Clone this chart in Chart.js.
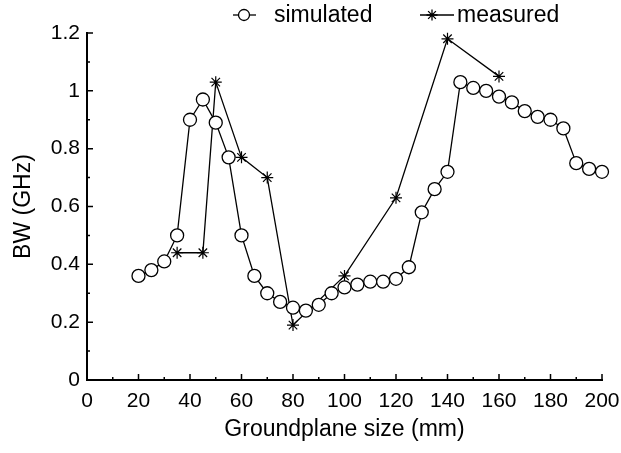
<!DOCTYPE html>
<html>
<head>
<meta charset="utf-8">
<script src="https://cdn.jsdelivr.net/npm/chart.js@4.4.0/dist/chart.umd.min.js"></script>
<style>
  body { margin: 0; background: #fff; }
  #wrap { width: 621px; height: 453px; }
</style>
</head>
<body>
<div id="wrap"><canvas id="bwChart"></canvas></div>
<script>
// groundplane size (mm) and bandwidth (GHz)
const simSizes = [20, 25, 30, 35, 40, 45, 50, 55, 60, 65, 70, 75, 80, 85, 90, 95, 100,
                  105, 110, 115, 120, 125, 130, 135, 140, 145, 150, 155, 160, 165, 170,
                  175, 180, 185, 190, 195, 200];
const simBW = [0.36, 0.38, 0.41, 0.50, 0.90, 0.97, 0.89, 0.77, 0.50, 0.36, 0.30, 0.27, 0.25,
               0.24, 0.26, 0.30, 0.32, 0.33, 0.34, 0.34, 0.35, 0.39, 0.58, 0.66, 0.72, 1.03,
               1.01, 1.00, 0.98, 0.96, 0.93, 0.91, 0.90, 0.87, 0.75, 0.73, 0.72];
const measSizes = [35, 45, 50, 60, 70, 80, 100, 120, 140, 160];
const measBW = [0.44, 0.44, 1.03, 0.77, 0.70, 0.19, 0.36, 0.63, 1.18, 1.05];

const xTicks = [0, 20, 40, 60, 80, 100, 120, 140, 160, 180, 200];
const yTicks = [0, 0.2, 0.4, 0.6, 0.8, 1, 1.2];

const FONT = '"Liberation Sans", Arial, sans-serif';

function toPoints(xs, ys) {
    return xs.map((x, i) => ({ x: x, y: ys[i] }));
}

function drawStar(ctx, cx, cy, r) {
    ctx.beginPath();
    for (let k = 0; k < 4; k++) {
        const a = k * Math.PI / 4;
        ctx.moveTo(cx - r * Math.cos(a), cy - r * Math.sin(a));
        ctx.lineTo(cx + r * Math.cos(a), cy + r * Math.sin(a));
    }
    ctx.stroke();
}

// inward ticks (major + minor) and the legend at the top
const axisDecor = {
    id: 'axisDecor',
    afterDraw(chart) {
        const { ctx, chartArea, scales } = chart;
        const { left, bottom } = chartArea;
        ctx.save();
        ctx.strokeStyle = '#000';
        ctx.lineWidth = 1.5;
        ctx.beginPath();
        xTicks.forEach((v, i) => {
            const px = scales.x.getPixelForValue(v);
            ctx.moveTo(px, bottom);
            ctx.lineTo(px, bottom - 6);
            if (i < xTicks.length - 1) {
                const mx = scales.x.getPixelForValue((v + xTicks[i + 1]) / 2);
                ctx.moveTo(mx, bottom);
                ctx.lineTo(mx, bottom - 3);
            }
        });
        yTicks.forEach((v, i) => {
            const py = scales.y.getPixelForValue(v);
            ctx.moveTo(left, py);
            ctx.lineTo(left + 6, py);
            if (i < yTicks.length - 1) {
                const my = scales.y.getPixelForValue((v + yTicks[i + 1]) / 2);
                ctx.moveTo(left, my);
                ctx.lineTo(left + 3, my);
            }
        });
        ctx.stroke();

        // legend
        ctx.lineWidth = 1.3;
        ctx.font = '23px ' + FONT;
        ctx.fillStyle = '#000';
        ctx.textBaseline = 'middle';
        const ly = 15;
        ctx.beginPath();
        ctx.moveTo(233, ly);
        ctx.lineTo(256, ly);
        ctx.stroke();
        ctx.beginPath();
        ctx.arc(244, ly, 5.5, 0, Math.PI * 2);
        ctx.fillStyle = '#fff';
        ctx.fill();
        ctx.stroke();
        ctx.fillStyle = '#000';
        ctx.fillText('simulated', 274, ly + 1);

        ctx.beginPath();
        ctx.moveTo(420, ly);
        ctx.lineTo(454, ly);
        ctx.stroke();
        drawStar(ctx, 432, ly, 5.5);
        ctx.fillText('measured', 457, ly + 1);
        ctx.restore();
    }
};

new Chart(document.getElementById('bwChart'), {
    type: 'line',
    data: {
        datasets: [{
            label: 'simulated',
            data: toPoints(simSizes, simBW),
            borderColor: '#000',
            borderWidth: 1.3,
            backgroundColor: '#fff',
            pointStyle: 'circle',
            pointRadius: 6.5,
            pointBorderWidth: 1.3,
            pointBackgroundColor: '#fff',
            pointBorderColor: '#000',
            tension: 0,
            clip: false
        }, {
            label: 'measured',
            data: toPoints(measSizes, measBW),
            borderColor: '#000',
            borderWidth: 1.3,
            pointStyle: 'star',
            pointRadius: 6,
            pointBorderWidth: 1.2,
            pointBorderColor: '#000',
            tension: 0,
            clip: false
        }]
    },
    options: {
        responsive: true,
        maintainAspectRatio: false,
        animation: false,
        layout: { padding: { top: 33, right: 19, left: 0, bottom: 0 } },
        plugins: {
            legend: { display: false },
            tooltip: { enabled: false }
        },
        scales: {
            x: {
                type: 'linear',
                min: 0,
                max: 200,
                afterBuildTicks: scale => { scale.ticks = xTicks.map(v => ({ value: v })); },
                afterFit: scale => {
                    scale.height = 73;
                    scale.paddingLeft = 0;
                    scale.paddingRight = 0;
                },
                grid: { display: false, drawTicks: false },
                border: { display: true, color: '#000', width: 2 },
                ticks: {
                    color: '#000',
                    padding: 9,
                    maxRotation: 0,
                    font: { family: FONT, size: 21 }
                },
                title: {
                    display: true,
                    text: 'Groundplane size (mm)',
                    color: '#000',
                    padding: { top: 0, bottom: 10 },
                    font: { family: FONT, size: 23 }
                }
            },
            y: {
                min: 0,
                max: 1.2,
                afterBuildTicks: scale => { scale.ticks = yTicks.map(v => ({ value: v })); },
                afterFit: scale => {
                    scale.width = 87;
                    scale.paddingTop = 0;
                    scale.paddingBottom = 0;
                },
                grid: { display: false, drawTicks: false },
                border: { display: true, color: '#000', width: 2 },
                ticks: {
                    color: '#000',
                    padding: 7,
                    font: { family: FONT, size: 21 },
                    callback: v => String(v)
                },
                title: {
                    display: true,
                    text: 'BW (GHz)',
                    color: '#000',
                    padding: { top: 10, bottom: 0 },
                    font: { family: FONT, size: 23 }
                }
            }
        }
    },
    plugins: [axisDecor]
});
</script>
</body>
</html>
